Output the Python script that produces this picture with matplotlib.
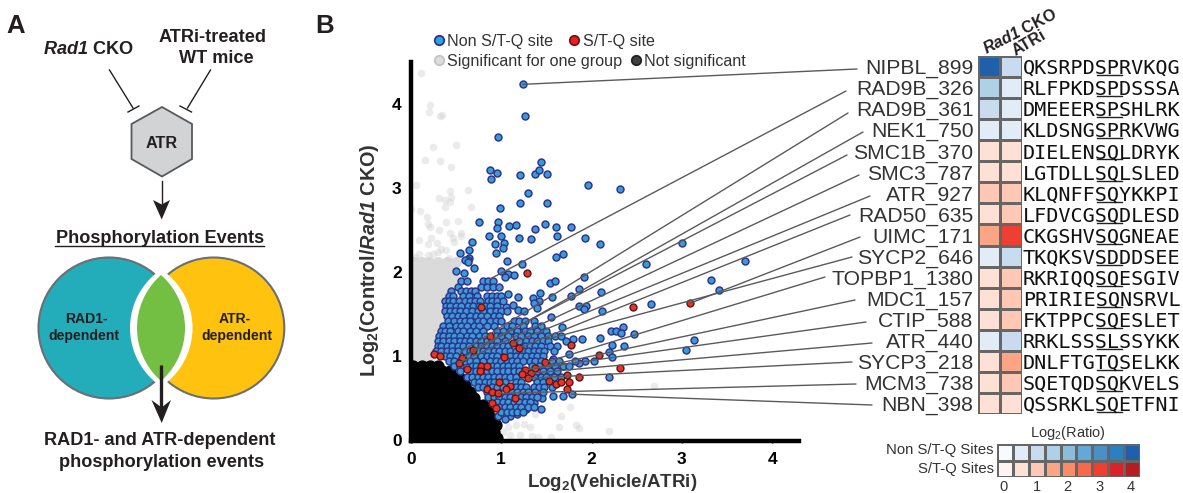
import matplotlib
matplotlib.use("Agg")
import matplotlib.pyplot as plt
import numpy as np
from matplotlib.colors import ListedColormap, BoundaryNorm
from matplotlib.patches import Circle, Polygon, ConnectionPatch

plt.rcParams['font.family'] = ['Liberation Sans', 'DejaVu Sans']
plt.rcParams['mathtext.fontset'] = 'custom'
plt.rcParams['mathtext.rm'] = 'Liberation Sans'
plt.rcParams['mathtext.bf'] = 'Liberation Sans:bold'
plt.rcParams['mathtext.it'] = 'Liberation Sans:italic'
plt.rcParams['mathtext.bfit'] = 'Liberation Sans:italic:bold'

# ---------- scatter data ----------
blue_sparse_x = [1.24,1.26,.97,.88,.95,.89,1.21,1.37,1.42,1.44,1.51,1.96,2.31,1.30,1.21,1.51,.99,.75,.97,.95,1.09,1.17,1.49,1.61,1.77,1.37,.87,1.00,1.20,1.33,1.62,1.93,2.09,3.00,.68,.93,1.03,1.02,.64,.55,.94,.65,.63,1.06,1.61,1.69,3.70,
                 .60,.63,.70,.50,.59,1.23,1.00,1.08,1.14,1.04,2.60,3.32,3.41,2.66,1.92,1.86,2.10,1.54,1.60,1.56,1.77,1.86,1.94,1.92,2.12,1.55,1.43,1.35,1.42,1.36,1.40,1.19,1.08,1.13,1.19,1.25,1.05,1.67,2.35,2.22,2.27,2.33,2.47,2.09,1.90,1.80,1.72,2.23,2.36,2.19,2.23,2.03,1.93,1.86,1.82,2.19,3.13,3.04,1.57,1.75,1.69,1.75,1.78,1.69,1.57,1.45,1.44,1.36,1.27,1.18,1.10,1.04,.97]
blue_sparse_y = [4.23,3.85,3.61,3.21,3.18,3.10,3.15,3.17,3.21,3.31,3.17,3.03,2.99,2.94,2.82,2.82,2.76,2.60,2.59,2.52,2.55,2.56,2.57,2.54,2.54,2.51,2.43,2.43,2.41,2.39,2.43,2.40,2.33,2.34,2.36,2.33,2.34,2.29,2.26,2.23,2.23,2.17,2.14,2.13,2.18,2.22,2.13,
                 2.14,2.12,2.05,2.01,1.99,2.10,2.01,1.98,1.97,1.94,2.10,1.91,1.79,1.62,1.94,1.80,1.76,1.87,1.89,1.71,1.72,1.60,1.60,1.56,1.54,1.47,1.75,1.69,1.66,1.63,1.57,1.70,1.74,1.61,1.55,1.54,1.59,1.35,1.35,1.30,1.30,1.28,1.26,1.22,1.20,1.21,1.18,1.13,1.12,1.05,.99,.95,.95,.92,.95,.76,1.19,1.08,.97,1.03,.89,.88,.55,.53,.53,.51,.38,.44,.38,.31,.29,.25,.29]
blue_rows = {
    1.90: [.56,.62,.80,.86,.91],
    1.82: [.52,.78,.84,.91,.98],
    1.78: [.45,.56,.61,.67,.71],
    1.72: [.42,.47,.58,.64,.73,.84,.90,.95,1.00],
    1.66: [.38,.42,.47,.53,.60,.66,.71,.77,.85,.90,.96,1.02],
    1.60: [.39,.44,.50,.56,.63,.69,.75,.82,.88,.95],
    1.54: [.38,.44,.49,.55,.61,.68,.74,.80,.88,.94,1.00,1.06],
    1.48: [.40,.46,.52,.58,.66,.72,.78,.84,.92,.98],
    1.42: [.41,.48,.54,.60,.66,.74,.80,.88,.94,1.00,1.14,1.20,1.26,1.36],
    1.36: [.36,.42,.50,.56,.62,.70,.76,.84,.92,1.06,1.12,1.24,1.38,1.44],
    1.30: [.33,.38,.44,.52,.58,.66,.72,.80,.96,1.02,1.10,1.18,1.26,1.32,1.40,1.50],
    1.24: [.31,.36,.42,.48,.54,.62,.68,.76,.82,.94,1.00,1.08,1.16,1.22,1.30,1.36,1.44,1.52,1.60,1.66],
    1.18: [.30,.36,.42,.48,.54,.60,.66,.72,.78,.84,.90,.96,1.04,1.20,1.28,1.34,1.40,1.46,1.52],
    1.12: [.30,.34,.40,.46,.52,.58,.64,.72,.78,.84,.90,.96,1.02,1.08,1.26,1.32,1.38,1.44,1.54,1.62],
    1.06: [.28,.34,.40,.46,.52,.60,.66,.74,.80,.86,.92,.98,1.04,1.10,1.16,1.24,1.30,1.36,1.42,1.48,1.58],
    1.00: [.38,.44,.50,.64,.70,.78,.84,.90,.96,1.10,1.16,1.22,1.28,1.34,1.40,1.46],
    .94: [.42,.48,.60,.66,.72,.80,.88,.94,1.00,1.06,1.12,1.18,1.24,1.32,1.38,1.44,1.56,1.64],
    .88: [.48,.54,.68,.72,.90,.96,1.02,1.08,1.14,1.20,1.34,1.42,1.52,1.60],
    .82: [.55,.66,.72,.84,.90,.96,1.02,1.08,1.14,1.20,1.40,1.46,1.54,1.62],
    .76: [.62,.68,.74,.80,.86,.92,.98,1.04,1.10,1.16,1.36,1.44,1.50,1.58,1.66],
    .70: [.70,.76,.82,.88,.92,1.04,1.16,1.22,1.40,1.46],
    .64: [.74,.80,.90,.96,1.02,1.16,1.22,1.28,1.36,1.42,1.48,1.56],
    .58: [.84,1.12,1.18,1.24,1.30,1.38,1.46],
    .52: [.86,.92,.98,1.04,1.10,1.22,1.28,1.34,1.40],
    .46: [.96,1.02,1.08,1.14,1.20,1.26,1.32],
    .40: [.98,1.04,1.10,1.16,1.22,1.30,1.36],
    .34: [1.00,1.06,1.12,1.18,1.24],
}
red_x = [1.29,3.09,2.46,1.77,2.08,2.31,1.86,1.73,1.53,1.61,1.66,1.75,1.73,.26,.32,.57,.53,.62,.69,.78,.88,.78,.84,.77,1.03,1.13,1.20,1.49,1.26,1.23,1.33,1.38,1.30,.98,1.10,1.05,.84,.90,.97,1.15,.90,.94]
red_y = [1.99,1.63,1.58,1.14,1.01,.86,.75,.78,.71,.67,.69,.69,.61,1.03,1.00,.98,.92,.85,1.08,1.58,1.24,.89,.89,.82,.99,1.16,1.10,.93,.84,.79,.80,.86,.74,.69,.65,.61,.61,.58,.56,.50,.44,.39]
grey_sparse_x = [.11,.21,.20,.32,.35,.25,.50,.16,.32,.45,.06,.43,.63,.31,.38,.45,.43,.38,.67,.10,.18,.00,.39,.52,.19,.21,.31,.44,.56,.23,.47,.56,.09,.29,.48,.19,.33,.39,.09,.25,.30,.05,.42,.19,
                 2.69,1.76,1.66,1.83,1.86,1.64,2.19,1.55,1.34,1.25,1.38,1.10,1.02,1.17,1.08,.95,1.32,1.41,1.21]
grey_sparse_y = [4.37,3.99,3.90,3.85,3.87,3.49,3.51,3.33,3.32,3.25,3.03,2.96,2.97,2.88,2.86,2.89,2.83,2.77,2.77,2.72,2.66,2.75,2.59,2.61,2.57,2.54,2.50,2.46,2.46,2.41,2.41,2.43,2.38,2.35,2.36,2.33,2.27,2.26,2.22,2.22,2.24,2.18,2.17,2.20,
                 .65,.40,.29,.19,.15,.16,.11,.04,.05,.20,.31,.07,.10,.18,.16,.08,.16,.04,.06]
grey_rows = {
    1.00: [.02,.09,.16,.22], 1.07: [.00,.06,.13,.20,.25], 1.14: [.03,.10,.17,.24],
    1.21: [.00,.07,.14,.21,.27], 1.28: [.03,.10,.17,.24,.30], 1.35: [.00,.07,.14,.21,.28],
    1.42: [.03,.10,.17,.24,.31], 1.49: [.00,.07,.14,.21,.28,.34], 1.56: [.03,.10,.17,.24,.31,.36],
    1.63: [.00,.07,.14,.21,.28,.34], 1.70: [.03,.10,.17,.24,.31,.37], 1.77: [.00,.07,.14,.21,.28,.35,.41],
    1.84: [.03,.10,.17,.24,.31,.38,.45], 1.91: [.00,.07,.14,.22,.30,.38,.45,.50], 1.98: [.03,.10,.18,.26,.35,.42],
    2.05: [.00,.08,.15,.24,.33,.44], 2.12: [.04,.12,.20,.30,.40,.50],
}
black_rows = {
    .89: [.03,.12,.21,.30],
    .82: [.00,.08,.17,.26,.35,.43],
    .74: [.03,.12,.21,.30,.39,.48,.55],
    .66: [.00,.08,.17,.26,.35,.43,.52,.60],
    .58: [.03,.12,.21,.30,.39,.48,.57,.66],
    .50: [.00,.08,.17,.26,.35,.43,.52,.61,.70],
    .42: [.03,.12,.21,.30,.39,.48,.57,.66,.74,.80],
    .34: [.00,.08,.17,.26,.35,.43,.52,.61,.70,.78,.86],
    .26: [.03,.12,.21,.30,.39,.48,.57,.66,.74,.83,.92],
    .18: [.00,.08,.17,.26,.35,.43,.52,.61,.70,.78,.87,.94],
    .10: [.03,.12,.21,.30,.39,.48,.57,.66,.74,.83,.92],
    .03: [.00,.08,.17,.26,.35,.43,.52,.61,.70,.78,.86,.96],
}

# ---------- heat map data (signed: negative = non S/T-Q scale) ----------
sites = ["NIPBL_899","RAD9B_326","RAD9B_361","NEK1_750","SMC1B_370","SMC3_787","ATR_927","RAD50_635","UIMC_171",
         "SYCP2_646","TOPBP1_1380","MDC1_157","CTIP_588","ATR_440","SYCP3_218","MCM3_738","NBN_398"]
seqs = ["QKSRPDSPRVKQG","RLFPKDSPDSSSA","DMEEERSPSHLRK","KLDSNGSPRKVWG","DIELENSQLDRYK","LGTDLLSQLSLED","KLQNFFSQYKKPI",
        "LFDVCGSQDLESD","CKGSHVSQGNEAE","TKQKSVSDDDSEE","RKRIQQSQESGIV","PRIRIESQNSRVL","FKTPPCSQESLET","RRKLSSSLSSYKK",
        "DNLFTGTQSELKK","SQETQDSQKVELS","QSSRKLSQETFNI"]
rad1_vals = [-4.23,-1.92,-1.05,-.98,.75,.75,1.16,.80,1.63,-.85,.75,.80,.80,-.80,.74,.56,.55]
atri_vals = [-1.24,-.55,-.55,-.57,.69,.53,1.13,1.20,3.09,-1.50,1.49,1.33,1.26,-1.33,1.60,1.20,.90]
seq_ticks = ["0","1","2","3","4"]
blues = ["#f7fbff","#e1ecf7","#c9dcef","#aed1e7","#8bbcd9","#65a8d6","#4a90c4","#2b80c0","#2060ab"]
reds = ["#fff5f0","#fee0d4","#fec8b4","#fca586","#fb8a66","#f56a4a","#ee4030","#d8232a","#b31e24"]
cmap = ListedColormap(blues[::-1] + reds)
norm = BoundaryNorm(np.arange(-4.5, 4.51, .5), cmap.N)
cbar_levels = [0.25, .75, 1.25, 1.75, 2.25, 2.75, 3.25, 3.75, 4.25]

# connector ends: (data x, data y) of the site, label-side end in image pixels
conn_pts = [(1.24,4.23),(.88,1.92),(.55,1.05),(.57,.98),(.69,1.08),(.53,.92),(1.13,1.16),(1.20,1.10),(3.09,1.63),
            (1.50,1.20),(1.49,.93),(1.38,.86),(1.26,.84),(1.33,.80),(1.30,.74),(.97,.56),(1.78,.55)]
conn_ends = [(857,69),(846,91),(848,113),(863,132),(847,155),(859,175),(870,196),(850,215),(860,237),
             (852,257),(825,277),(855,300),(866,322),(872,343),(852,362),(856,384),(872,405)]

W, H = 1183, 493
fig = plt.figure(figsize=(W/100, H/100), dpi=100)

def rect(l, t, r, b):
    return [l/W, 1-b/H, (r-l)/W, (b-t)/H]

def flat(rows):
    xs, ys = [], []
    for y, row in rows.items():
        xs += row
        ys += [y]*len(row)
    return xs, ys

# ---------- scatter ----------
ax = fig.add_axes(rect(410.7, 62, 410.7+4.3*90.4, 440.5))
ax.set_xlim(0, 4.3)
ax.set_ylim(0, 378.5/84.2)
ax.patch.set_alpha(0)
gx, gy = flat(grey_rows)
ax.scatter(gx, gy, s=62, c="#dadada", alpha=1, lw=0, zorder=1)
ax.scatter(grey_sparse_x, grey_sparse_y, s=30, c="#cfcfcf", alpha=.4, lw=0, zorder=1)
bx, by = flat(black_rows)
ax.scatter(bx, by, s=78, c="k", lw=0, zorder=2)
dx, dy = flat(blue_rows)
ax.scatter(blue_sparse_x + dx, blue_sparse_y + dy, s=25, c="#3c9ad2", edgecolors="#2b338f", lw=1.05, zorder=3)
ax.scatter(red_x, red_y, s=25, c="#e8352a", edgecolors="#5c1414", lw=1.0, zorder=4)
for sp in ("top", "right"):
    ax.spines[sp].set_visible(False)
for sp in ("left", "bottom"):
    ax.spines[sp].set_linewidth(3.2)
    ax.spines[sp].set_color("k")
    ax.spines[sp].set_zorder(6)
ax.set_xticks([0, 1, 2, 3, 4])
ax.set_yticks([0, 1, 2, 3, 4])
ax.tick_params(axis="x", length=1.5, width=1, pad=7)
ax.tick_params(axis="y", length=1.5, width=1, pad=5)
for t in ax.get_xticklabels() + ax.get_yticklabels():
    t.set_fontweight("bold")
    t.set_fontsize(12.5)

# ---------- heat map ----------
hm = fig.add_axes(rect(978, 56, 1022, 414))
hm.pcolormesh(np.array([rad1_vals, atri_vals]).T, cmap=cmap, norm=norm, edgecolors="#666666", linewidth=2.0)
hm.set_ylim(len(sites), 0)
hm.axis("off")
hm.patch.set_alpha(0)
cb = fig.add_axes(rect(997, 444, 1140, 477))
cb.pcolormesh([cbar_levels, [-v for v in cbar_levels]], cmap=cmap, norm=norm, edgecolors="#666666", linewidth=2.0)
cb.axis("off")

# ---------- overlay in image pixels ----------
ov = fig.add_axes([0, 0, 1, 1], zorder=10)
ov.set_xlim(0, W)
ov.set_ylim(H, 0)
ov.axis("off")
ov.patch.set_alpha(0)

for pt, end in zip(conn_pts, conn_ends):
    fig.add_artist(ConnectionPatch(xyA=pt, coordsA=ax.transData, xyB=end, coordsB=ov.transData,
                                   color="#5a5a5a", lw=1.0, zorder=5))

DK = "#231f20"
def T(x, y, s, **k):
    k.setdefault("ha", "center")
    k.setdefault("va", "baseline")
    k.setdefault("color", DK)
    return ov.text(x, y, s, **k)

pitch = 358/17
for i, (a, b) in enumerate(zip(sites, seqs)):
    yb = 56 + pitch*(i+.5) + 7.5
    T(973.5, yb, a, ha="right", fontsize=15.2, color="#333333")
    T(1023, yb, b, ha="left", fontsize=14.5, family="DejaVu Sans Mono", color="#111111")
    ov.plot([1097, 1122], [yb+1.2, yb+1.2], color="#222222", lw=1.0)

T(986, 54, r"$\mathbfit{Rad1}$ $\mathbf{CKO}$", ha="left", rotation=27, rotation_mode="anchor", fontsize=11.6)
T(1016, 56, "ATRi", ha="left", rotation=30, rotation_mode="anchor", fontsize=11.6, fontweight="bold")

T(1068, 437, r"Log$_2$(Ratio)", fontsize=10.5, color="#333333")
T(994, 454, "Non S/T-Q Sites", ha="right", fontsize=10.7, color="#333333")
T(994, 473, "S/T-Q Sites", ha="right", fontsize=10.7, color="#333333")
for xp, s in zip([1004, 1037, 1067, 1100, 1131], seq_ticks):
    T(xp, 491, s, fontsize=10.5, color="#333333")

# axis titles
T(612.5, 487, r"Log$\mathbf{_2}$(Vehicle/ATRi)", fontsize=13.5, fontweight="bold", color="#333333")
T(370, 260, r"$\mathbf{Log_2(Control/}\mathbfit{Rad1}\mathbf{\ CKO)}$", fontsize=14.3, rotation=90,
  va="center", ha="center", color="#333333", rotation_mode="anchor")

# scatter legend
leg = [(438.7, 40, "#27a5dc", "#2e3192", 446.7, 46, "Non S/T-Q site"),
       (574, 40, "#ed1c24", "#7a1010", 582.7, 46, "S/T-Q site"),
       (438.7, 60, "#dcdcdc", "#c4c4c4", 446.7, 66, "Significant for one group"),
       (635.7, 60, "#404040", "#222222", 644, 66, "Not significant")]
for mx, my, fc, ec, tx, ty, s in leg:
    ov.scatter([mx], [my], s=46, c=fc, edgecolors=ec, lw=1.3)
    T(tx, ty, s, ha="left", fontsize=11.6, color="#333333")

# panel letters
T(16, 33, "A", fontsize=18.5, fontweight="bold")
T(325, 33, "B", fontsize=18.5, fontweight="bold")

# ---------- panel A ----------
T(88, 54, r"$\mathbfit{Rad1}$ $\mathbf{CKO}$", fontsize=13.1)
T(213, 42, "ATRi-treated", fontsize=13.1, fontweight="bold")
T(216, 63, "WT mice", fontsize=13.1, fontweight="bold")
for seg in [[(109.5, 70), (133, 108)], [(128, 112), (139, 106)], [(210.5, 70), (187.5, 108)], [(180, 106), (191.5, 112)]]:
    ov.plot(*zip(*seg), color=DK, lw=1.0)
ov.add_patch(Polygon([(162, 107), (192, 124), (192, 159), (162, 176.5), (131.5, 159), (131.5, 124)],
                     fc="#d1d3d4", ec="#58595b", lw=1.3))
T(162, 148, "ATR", fontsize=11.7, fontweight="bold")
ov.plot([161.7, 161.7], [181, 206], color=DK, lw=1.0)
ov.add_patch(Polygon([(161.7, 219.5), (153, 200), (161.7, 204.5), (170, 200)], fc=DK, ec="none"))
T(160, 243, "Phosphorylation Events", fontsize=13.1, fontweight="bold")
ov.plot([55, 264.5], [245.8, 245.8], color=DK, lw=1.0)

ov.add_patch(Circle((109, 328), 70.5, fc="#23acba", ec="#6d6e71", lw=1.5))
ov.add_patch(Circle((213.8, 328), 70.5, fc="#ffc20e", ec="#6d6e71", lw=1.5))
white = Circle((200.5, 328), 70.5, fc="white", ec="none")
ov.add_patch(white)
white.set_clip_path(Circle((122, 328), 70.5, transform=ov.transData))
green = Circle((207.5, 328), 70.5, fc="#72bf44", ec="none")
ov.add_patch(green)
green.set_clip_path(Circle((114.5, 328), 70.5, transform=ov.transData))
T(86, 323, "RAD1-", fontsize=10.1, fontweight="bold")
T(84, 340, "dependent", fontsize=10.1, fontweight="bold")
T(235, 323, "ATR-", fontsize=10.1, fontweight="bold")
T(237, 340, "dependent", fontsize=10.1, fontweight="bold")
ov.plot([161.3, 161.3], [365, 410], color=DK, lw=2.4, solid_capstyle="butt")
ov.add_patch(Polygon([(161.7, 423), (151.5, 400), (161.7, 407.5), (171, 400)], fc=DK, ec="none"))
T(160, 445, "RAD1- and ATR-dependent", fontsize=13.1, fontweight="bold")
T(162, 467, "phosphorylation events", fontsize=13.1, fontweight="bold")

fig.savefig("out.png", dpi=100)
